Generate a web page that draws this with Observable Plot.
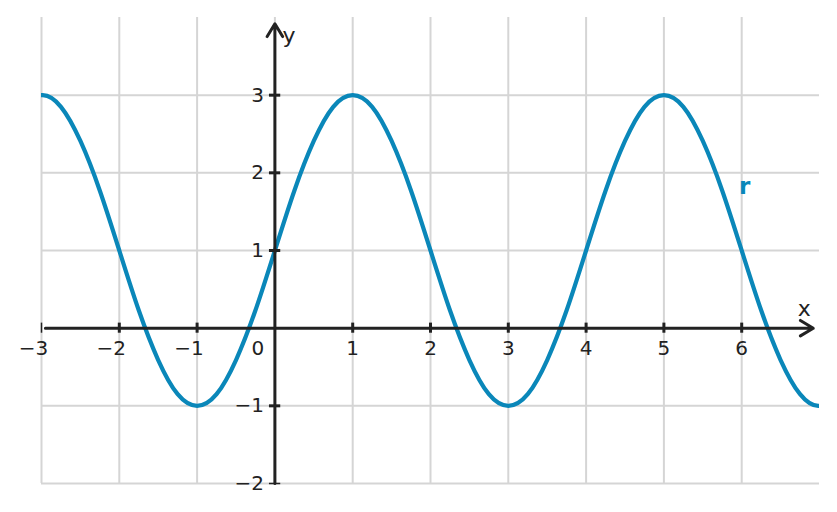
<!DOCTYPE html>
<html>
<head>
<meta charset="utf-8">
<script src="https://cdn.jsdelivr.net/npm/d3@7"></script>
<script src="https://cdn.jsdelivr.net/npm/@observablehq/plot@0.6"></script>
<style>
  html, body { margin: 0; padding: 0; background: #fff; }
</style>
</head>
<body>
<div id="chart"></div>
<script>
// Curve r (the curve continues past both frame edges, where it is clipped)
const curveX = [-3.25, -3, -2.75, -2.5, -2.25, -2, -1.75, -1.5, -1.25, -1, -0.75, -0.5, -0.25,
  0, 0.25, 0.5, 0.75, 1, 1.25, 1.5, 1.75, 2, 2.25, 2.5, 2.75, 3, 3.25, 3.5, 3.75,
  4, 4.25, 4.5, 4.75, 5, 5.25, 5.5, 5.75, 6, 6.25, 6.5, 6.75, 7, 7.25];
const curveY = [2.85, 3, 2.85, 2.41, 1.77, 1, 0.23, -0.41, -0.85, -1, -0.85, -0.41, 0.23,
  1, 1.77, 2.41, 2.85, 3, 2.85, 2.41, 1.77, 1, 0.23, -0.41, -0.85, -1, -0.85, -0.41, 0.23,
  1, 1.77, 2.41, 2.85, 3, 2.85, 2.41, 1.77, 1, 0.23, -0.41, -0.85, -1, -0.85];

const gridXValues = [-3, -2, -1, 0, 1, 2, 3, 4, 5, 6];
const gridYValues = [-2, -1, 1, 2, 3];
const xTickValues = [-3, -2, -1, 1, 2, 3, 4, 5, 6];
const xTickLabels = ["−3", "−2", "−1", "1", "2", "3", "4", "5", "6"];
const yTickValues = [-2, -1, 1, 2, 3];
const yTickLabels = ["−2", "−1", "1", "2", "3"];
const seriesLabel = "r";

const curve = curveX.map((x, i) => ({x, y: curveY[i]}));
const xt = xTickValues.map((v, i) => ({v, label: xTickLabels[i], w: v === -3 ? 1.5 : 3}));
const yt = yTickValues.map((v, i) => ({v, label: yTickLabels[i], w: v === -2 ? 1.5 : 3}));

const ink = "#222222";
const blue = "#0a87b9";
const grid = "#d5d5d5";

const chart = Plot.plot({
  width: 837,
  height: 512,
  marginLeft: 41,
  marginRight: 18,
  marginTop: 17,
  marginBottom: 29,
  x: {domain: [-3, 7], axis: null},
  y: {domain: [-2, 4], axis: null},
  style: {fontFamily: "DejaVu Sans", background: "#fff", overflow: "visible"},
  marks: [
    Plot.ruleX(gridXValues, {x: d => d, y1: () => -2, y2: () => 4, stroke: grid, strokeWidth: 2}),
    Plot.ruleY(gridYValues, {y: d => d, x1: () => -3, x2: () => 7, stroke: grid, strokeWidth: 2}),
    Plot.line(curve, {x: "x", y: "y", curve: "natural", stroke: blue, strokeWidth: 4.2, clip: true}),
    Plot.arrow([0], {x1: () => -2.95, y1: () => 0, x2: () => 6.92, y2: () => 0, stroke: ink, strokeWidth: 3, headLength: 7.5, headAngle: 62}),
    Plot.arrow([0], {x1: () => 0, y1: () => -2, x2: () => 0, y2: () => 3.92, stroke: ink, strokeWidth: 3, headLength: 7.5, headAngle: 62}),
    Plot.ruleX(xt, {x: "v", y1: () => -0.065, y2: () => 0.065, stroke: ink, strokeWidth: "w"}),
    Plot.ruleY(yt, {y: "v", x1: () => -0.07, x2: () => 0.075, stroke: ink, strokeWidth: "w"}),
    Plot.text(xt.filter(d => d.v < 0), {x: "v", y: () => 0, text: "label", dx: -8, dy: 20, fontSize: 20, fill: ink}),
    Plot.text(xt.filter(d => d.v > 0), {x: "v", y: () => 0, text: "label", dy: 20, fontSize: 20, fill: ink}),
    Plot.text(["0"], {x: () => 0, y: () => 0, text: d => d, dx: -17, dy: 20, fontSize: 20, fill: ink}),
    Plot.text(yt, {x: () => 0, y: "v", text: "label", dx: -11, textAnchor: "end", fontSize: 20, fill: ink}),
    Plot.text(["x"], {x: () => 6.92, y: () => 0, text: d => d, dx: -9, dy: -19, fontSize: 22, fill: ink}),
    Plot.text(["y"], {x: () => 0, y: () => 3.92, text: d => d, dx: 14, dy: 12, fontSize: 22, fill: ink}),
    Plot.text([seriesLabel], {x: () => 6, y: () => 1.82, text: d => d, dx: 3, fontSize: 23, fontWeight: "bold", fill: blue})
  ]
});
document.getElementById("chart").appendChild(chart);
</script>
</body>
</html>
